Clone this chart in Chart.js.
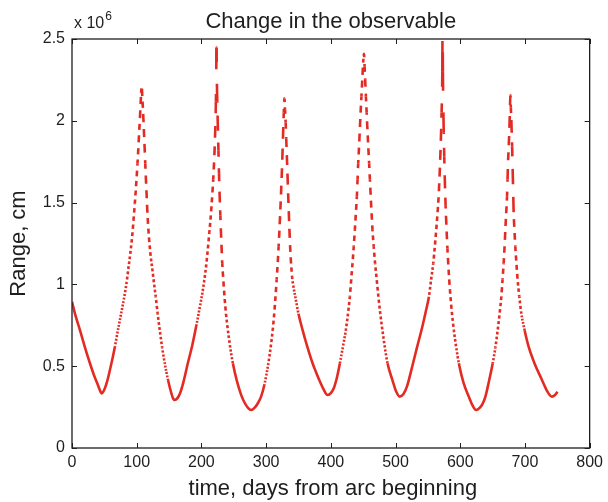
<!DOCTYPE html>
<html>
<head>
<meta charset="utf-8">
<title>Change in the observable</title>
<script src="https://cdn.jsdelivr.net/npm/chart.js@4.4.0/dist/chart.umd.min.js"></script>
<style>
    html, body { margin: 0; padding: 0; background: #fff; }
    #wrap { width: 608px; height: 502px; }
</style>
</head>
<body>
<div id="wrap"><canvas id="rangeChart" width="608" height="502"></canvas></div>
<script>
// ── Data (range in units of 10^6 cm) ──
const days = [
    0, 5, 12.3, 20, 27.7, 34, 40, 44, 46,
    50.8, 54.5, 58.6, 62.5, 66.3, 70, 74, 78, 81.7, 84.5, 86.8, 89.5, 91.9, 93.8, 95.5, 97.1, 98.6, 100, 101.2, 102.5, 103.7, 104.8, 105.8, 106.6, 107.8,
    108.7, 109.8, 111, 112.2, 113.2, 114.3, 115.4, 116.6, 118, 119.7, 121.8, 124.3, 126.8, 129.4, 132.4, 135.6, 139.3, 143.3, 148.4, 153.6, 156, 158.7,
    163, 167, 172, 179, 186, 192, 197, 202, 205, 207.5, 210, 212.3, 214.5, 216.5, 218.2, 219.6, 220.8, 221.7, 222.4, 222.9, 223.3,
    223.8, 224.5, 225.3, 226.3, 227.2, 228.2, 229.3, 230.6, 232.2, 233.8, 235.7, 238, 240.9, 244.5, 248.6, 254.5, 261.4, 267, 272, 276.8,
    282, 287, 292.2, 297.5, 303.5, 307, 310.2, 312.5, 314.5, 316.3, 317.9, 319.3, 320.6, 321.8, 322.9, 324, 324.9, 325.7, 326.4, 327.3, 328.2,
    329.2, 330.2, 331.1, 332, 332.9, 333.8, 334.8, 335.8, 337, 338.5, 340.3, 342.5, 345.1, 350, 356.4, 364, 371.8, 377, 382.1, 388, 394.9,
    400, 405, 410, 414, 418.5, 423.2, 426.5, 429.4, 431.5, 433.5, 435.4, 437.1, 438.7, 440.2, 441.3, 442.3, 443.6, 444.8, 446, 447.3, 448.6, 449.9, 451.3,
    452.2, 453.1, 454.2, 455.4, 456.6, 457.9, 459.2, 460.4, 461.7, 463, 464.4, 466.3, 468.4, 470.9, 473.5, 476.5, 479.7, 483.5, 487.6, 495.1, 500.5, 506.4,
    512, 518, 525.9, 533.5, 541.3, 546.5, 551.6, 555, 558.3, 560.7, 562.9, 564.9, 566.6, 567.8, 568.8, 569.7, 570.5, 571.2, 571.8, 572.3, 572.7,
    573.2, 573.8, 574.5, 575.3, 576.3, 577.4, 578.7, 580.2, 582, 584.2, 586.8, 590.1, 593.8, 597.8, 605, 613.2, 619, 624.4,
    630, 634.5, 638.9, 644.5, 650.2, 654.3, 657.9, 660.8, 663.5, 665.4, 667.1, 668.5, 669.7, 671, 672.3, 673.1, 673.8, 674.9, 675.9, 676.7, 677.4,
    678.2, 679, 679.6, 680.2, 680.8, 681.4, 682, 682.6, 683.8, 685.1, 686.8, 688.7, 691.3, 694.4, 699.5, 705.7, 715, 726.3, 734, 741.7, 746, 750.4
];
const rangeE6 = [
    0.894, 0.815, 0.721, 0.615, 0.518, 0.445, 0.385, 0.345, 0.334,
    0.365, 0.41, 0.477, 0.545, 0.619, 0.70, 0.782, 0.865, 0.945, 1.015, 1.088, 1.17, 1.251, 1.33, 1.414, 1.495, 1.577, 1.66, 1.74, 1.83, 1.923, 2.00, 2.086, 2.15, 2.21,
    2.14, 2.06, 1.95, 1.84, 1.74, 1.638, 1.54, 1.434, 1.34, 1.251, 1.165, 1.088, 1.005, 0.925, 0.82, 0.721, 0.615, 0.518, 0.416, 0.334, 0.305, 0.293,
    0.305, 0.335, 0.40, 0.518, 0.63, 0.745, 0.85, 0.96, 1.04, 1.12, 1.22, 1.32, 1.42, 1.53, 1.64, 1.75, 1.87, 1.99, 2.12, 2.27, 2.45,
    2.27, 2.12, 1.98, 1.82, 1.68, 1.54, 1.42, 1.28, 1.13, 1.03, 0.925, 0.82, 0.721, 0.615, 0.518, 0.415, 0.325, 0.275, 0.245, 0.232,
    0.245, 0.272, 0.314, 0.39, 0.518, 0.615, 0.721, 0.82, 0.925, 1.03, 1.129, 1.23, 1.333, 1.44, 1.54, 1.65, 1.75, 1.85, 1.944, 2.05, 2.137,
    2.07, 1.99, 1.89, 1.79, 1.69, 1.58, 1.47, 1.36, 1.24, 1.13, 1.04, 0.98, 0.925, 0.82, 0.721, 0.615, 0.518, 0.465, 0.416, 0.365, 0.324,
    0.335, 0.37, 0.44, 0.518, 0.615, 0.721, 0.82, 0.925, 1.03, 1.129, 1.23, 1.333, 1.435, 1.536, 1.64, 1.74, 1.84, 1.944, 2.05, 2.148, 2.25, 2.351, 2.41,
    2.33, 2.25, 2.148, 2.05, 1.944, 1.84, 1.74, 1.64, 1.536, 1.435, 1.333, 1.23, 1.129, 1.03, 0.925, 0.82, 0.721, 0.615, 0.518, 0.416, 0.35, 0.314,
    0.328, 0.38, 0.50, 0.62, 0.74, 0.83, 0.925, 1.03, 1.129, 1.23, 1.333, 1.435, 1.536, 1.64, 1.74, 1.84, 1.944, 2.05, 2.148, 2.3, 2.6,
    2.3, 2.10, 1.93, 1.78, 1.62, 1.48, 1.35, 1.22, 1.09, 0.96, 0.84, 0.721, 0.615, 0.518, 0.40, 0.314, 0.26, 0.232,
    0.245, 0.27, 0.314, 0.41, 0.518, 0.615, 0.721, 0.82, 0.925, 1.03, 1.129, 1.23, 1.333, 1.435, 1.536, 1.64, 1.74, 1.84, 1.944, 2.05, 2.158,
    2.08, 2.005, 1.92, 1.842, 1.74, 1.638, 1.535, 1.434, 1.33, 1.231, 1.13, 1.027, 0.925, 0.823, 0.72, 0.619, 0.515, 0.416, 0.35, 0.314, 0.322, 0.344
];
const xTicks = [0, 100, 200, 300, 400, 500, 600, 700, 800];
const yTicks = [0, 0.5, 1, 1.5, 2, 2.5];

const FONT = '"Liberation Sans", Arial, Helvetica, sans-serif';
const INK = '#1e1e1e';
const RED = '#e32b24';
const PASS = 0.55;      // share of each day that shows as a dash
const SOLID_BELOW = 3.3; // px per day under which the trace looks continuous

// path length covered in one day, in pixels
function dayPeriod(ctx) {
    const dd = days[ctx.p1DataIndex] - days[ctx.p0DataIndex];
    const len = Math.hypot(ctx.p1.x - ctx.p0.x, ctx.p1.y - ctx.p0.y);
    return dd > 0 ? len / dd : 0;
}

// ── Box, inward ticks and the free texts (MATLAB look) ──
const matlabFrame = {
    id: 'matlabFrame',
    afterDraw(chart) {
        const { ctx, chartArea: a } = chart;
        const xs = chart.scales.x, ys = chart.scales.y;
        ctx.save();
        ctx.strokeStyle = INK;
        ctx.lineWidth = 1.3;
        ctx.strokeRect(a.left, a.top, a.right - a.left, a.bottom - a.top);

        ctx.beginPath();
        xTicks.forEach(v => {
            const px = Math.round(xs.getPixelForValue(v)) + 0.5;
            ctx.moveTo(px, a.bottom); ctx.lineTo(px, a.bottom - 5);
            ctx.moveTo(px, a.top); ctx.lineTo(px, a.top + 5);
        });
        yTicks.forEach(v => {
            const py = Math.round(ys.getPixelForValue(v)) + 0.5;
            ctx.moveTo(a.left, py); ctx.lineTo(a.left + 5, py);
            ctx.moveTo(a.right, py); ctx.lineTo(a.right - 5, py);
        });
        ctx.lineWidth = 1;
        ctx.stroke();

        ctx.fillStyle = INK;
        ctx.textBaseline = 'alphabetic';

        // title
        ctx.font = '22px ' + FONT;
        ctx.textAlign = 'center';
        ctx.fillText('Change in the observable', (a.left + a.right) / 2, 28);

        // x axis label
        ctx.fillText('time, days from arc beginning', (a.left + a.right) / 2 + 2, 495);

        // y axis label
        ctx.save();
        ctx.translate(25, (a.top + a.bottom) / 2);
        ctx.rotate(-Math.PI / 2);
        ctx.fillText('Range, cm', 0, 0);
        ctx.restore();

        // exponent
        ctx.textAlign = 'left';
        ctx.font = '16px ' + FONT;
        ctx.fillText('x 10', a.left + 2, 28);
        const w = ctx.measureText('x 10').width;
        ctx.font = '12px ' + FONT;
        ctx.fillText('6', a.left + 3 + w, 20);
        ctx.restore();
    }
};

new Chart(document.getElementById('rangeChart'), {
    type: 'line',
    data: {
        datasets: [{
            label: 'Range',
            data: days.map((d, i) => ({ x: d, y: rangeE6[i] })),
            borderColor: RED,
            borderWidth: 2.6,
            borderCapStyle: 'butt',
            borderJoinStyle: 'round',
            pointRadius: 0,
            fill: false,
            cubicInterpolationMode: 'monotone',
            clip: 0,
            segment: {
                borderDash: ctx => {
                    const p = dayPeriod(ctx);
                    return p < SOLID_BELOW ? [] : [p * PASS, p * (1 - PASS)];
                },
                borderDashOffset: ctx => {
                    const p = dayPeriod(ctx);
                    return p < SOLID_BELOW ? 0 : (days[ctx.p0DataIndex] % 1) * p;
                }
            }
        }]
    },
    options: {
        responsive: false,
        animation: false,
        devicePixelRatio: 1,
        layout: { padding: { top: 39, right: 17, bottom: 0, left: 0 } },
        plugins: {
            legend: { display: false },
            tooltip: { enabled: false },
            title: { display: false }
        },
        scales: {
            x: {
                type: 'linear',
                min: 0,
                max: 800,
                grid: { display: false, drawTicks: false },
                border: { display: false },
                afterBuildTicks: s => { s.ticks = xTicks.map(v => ({ value: v })); },
                afterFit: s => { s.height = 54; },
                ticks: {
                    color: INK,
                    padding: 5,
                    maxRotation: 0,
                    font: { family: FONT, size: 16 },
                    callback: v => String(v)
                }
            },
            y: {
                type: 'linear',
                min: 0,
                max: 2.5,
                grid: { display: false, drawTicks: false },
                border: { display: false },
                afterBuildTicks: s => { s.ticks = yTicks.map(v => ({ value: v })); },
                afterFit: s => { s.width = 72; },
                ticks: {
                    color: INK,
                    padding: 7,
                    font: { family: FONT, size: 16 },
                    callback: v => String(v)
                }
            }
        }
    },
    plugins: [matlabFrame]
});
</script>
</body>
</html>
